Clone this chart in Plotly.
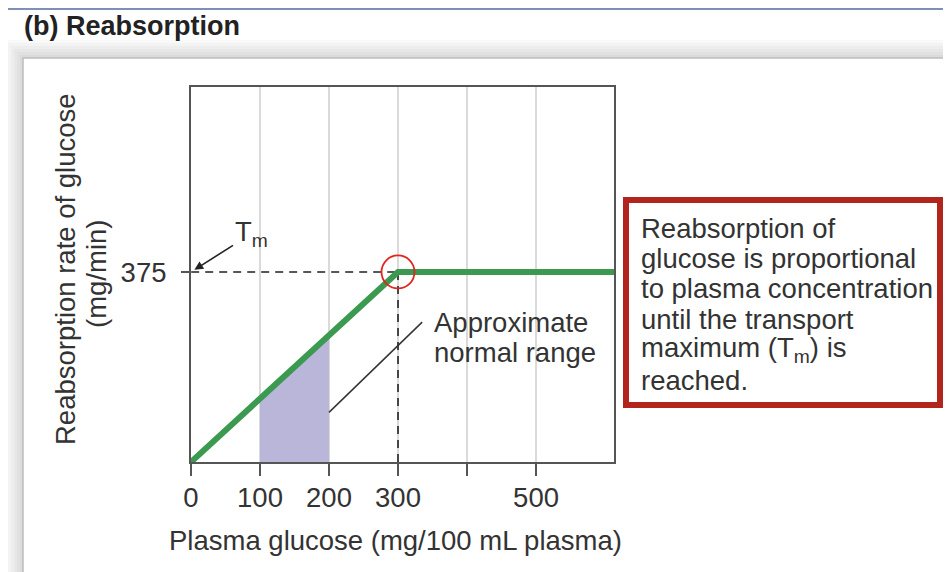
import numpy as np
import plotly.graph_objects as go

# ---------------- data ----------------
plasma_glucose = [0, 300, 650]          # mg/100 mL plasma
reabsorption_rate = [0, 375, 375]       # mg/min
transport_max = 375
tm_glucose = 300
normal_range = [100, 200]
x_tick_vals = [0, 100, 200, 300, 500]
x_tick_text = ["0", "100", "200", "300", "500"]
x_unlabeled_ticks = [400]
y_tick_vals = [375]
y_tick_text = ["375"]
callout_lines = [
    "Reabsorption of",
    "glucose is proportional",
    "to plasma concentration",
    "until the transport",
    "maximum (T<sub>m</sub>) is",
    "reached.",
]
normal_label_lines = ["Approximate", "normal range"]

# ---------------- style ----------------
FONT = "Liberation Sans, Arial, Helvetica, sans-serif"
FS = 27.5
TXT = "#333333"
OFF = 8                                  # page body margin
SW, SH = 951, 572                        # screen size
W, H = SW - OFF, SH - OFF                # figure size
L, R, T, B = 191, 614, 87, 462          # plot area in screen pixels
X_MAX, Y_MAX = 613, 740


def px2x(px):
    return (px - L) / (R - L)


def py2y(py):
    return (B - py) / (B - T)


nr_x = np.linspace(normal_range[0], normal_range[1], 2)
nr_y = np.interp(nr_x, plasma_glucose, reabsorption_rate)

fig = go.Figure()

# shaded normal range
fig.add_trace(go.Scatter(
    x=nr_x, y=nr_y, fill="tozeroy", mode="none",
    fillcolor="#b9b6da", hoverinfo="skip", showlegend=False))

# dashed guides to Tm
fig.add_trace(go.Scatter(
    x=[-20, tm_glucose], y=[transport_max, transport_max], mode="lines",
    line=dict(color="#222222", width=1.6, dash="8px,6px"),
    cliponaxis=False, hoverinfo="skip", showlegend=False))
fig.add_trace(go.Scatter(
    x=[tm_glucose, tm_glucose], y=[transport_max, -10], mode="lines",
    line=dict(color="#222222", width=1.6, dash="8px,6px"),
    cliponaxis=False, hoverinfo="skip", showlegend=False))

# reabsorption curve
fig.add_trace(go.Scatter(
    x=plasma_glucose, y=reabsorption_rate, mode="lines",
    line=dict(color="#3b9a50", width=6), showlegend=False))

# red circle at Tm
fig.add_trace(go.Scatter(
    x=[tm_glucose], y=[transport_max], mode="markers",
    marker=dict(symbol="circle-open", size=33, color="#e0261f",
                line=dict(width=1.8, color="#e0261f")),
    cliponaxis=False, hoverinfo="skip", showlegend=False))

shapes = []
# top rule
shapes.append(dict(type="line", xref="paper", yref="paper",
                   x0=px2x(0), x1=px2x(SW), y0=py2y(9), y1=py2y(9),
                   line=dict(color="#7f8fb5", width=2), layer="below"))
# panel shadow
for k in range(6, 0, -1):
    shapes.append(dict(type="rect", xref="paper", yref="paper",
                       x0=px2x(23 - 3 * k), x1=px2x(1000),
                       y0=py2y(640), y1=py2y(58 - 3 * k),
                       fillcolor="rgba(0,0,0,0.022)", line=dict(width=0),
                       layer="below"))
# panel
shapes.append(dict(type="rect", xref="paper", yref="paper",
                   x0=px2x(23), x1=px2x(1000), y0=py2y(640), y1=py2y(58),
                   fillcolor="white", line=dict(color="#bdbdbd", width=1.5),
                   layer="below"))
# callout box
shapes.append(dict(type="rect", xref="paper", yref="paper",
                   x0=px2x(626), x1=px2x(940), y0=py2y(405), y1=py2y(200),
                   fillcolor="white", line=dict(color="#b1251d", width=6)))
# leader line for normal range
shapes.append(dict(type="line", xref="x", yref="y",
                   x0=normal_range[1], y0=98, x1=335, y1=276,
                   line=dict(color="#333333", width=1.5)))

annotations = []
# panel title
annotations.append(dict(
    text="<b>(b) Reabsorption</b>", xref="paper", yref="paper",
    x=px2x(22), y=py2y(26), xanchor="left", yanchor="middle",
    showarrow=False, font=dict(family=FONT, size=27, color="#222222")))
# Tm arrow
annotations.append(dict(
    text="T<sub>m</sub>", x=0, y=transport_max, xref="x", yref="y",
    ax=60, ay=-38, showarrow=True, arrowhead=2, arrowsize=1.1,
    arrowwidth=1.6, arrowcolor="#222222", standoff=4,
    font=dict(family=FONT, size=FS, color=TXT)))
# normal range label
for i, line in enumerate(normal_label_lines):
    annotations.append(dict(
        text=line, xref="paper", yref="paper",
        x=px2x(432), y=py2y(322 + 30 * i), xanchor="left", yanchor="middle",
        showarrow=False, font=dict(family=FONT, size=FS, color=TXT)))
# callout text
for i, line in enumerate(callout_lines):
    annotations.append(dict(
        text=line, xref="paper", yref="paper",
        x=px2x(639), y=py2y(228 + 30.4 * i), xanchor="left", yanchor="middle",
        showarrow=False, font=dict(family=FONT, size=FS, color=TXT)))
# axis titles
annotations.append(dict(
    text="Reabsorption rate of glucose", xref="paper", yref="paper",
    x=px2x(65), y=py2y(269), textangle=-90, xanchor="center",
    yanchor="middle", showarrow=False,
    font=dict(family=FONT, size=FS, color=TXT)))
annotations.append(dict(
    text="(mg/min)", xref="paper", yref="paper",
    x=px2x(96), y=py2y(274), textangle=-90, xanchor="center",
    yanchor="middle", showarrow=False,
    font=dict(family=FONT, size=FS, color=TXT)))
annotations.append(dict(
    text="Plasma glucose (mg/100 mL plasma)", xref="paper", yref="paper",
    x=px2x(395), y=py2y(540), xanchor="center", yanchor="middle",
    showarrow=False, font=dict(family=FONT, size=FS, color=TXT)))

fig.update_layout(
    width=W, height=H,
    margin=dict(l=L - OFF, r=SW - R, t=T - OFF, b=SH - B, pad=0),
    paper_bgcolor="white", plot_bgcolor="white",
    font=dict(family=FONT, size=FS, color=TXT),
    shapes=shapes, annotations=annotations, showlegend=False,
    xaxis=dict(range=[0, X_MAX], tickvals=x_tick_vals, ticktext=x_tick_text,
               ticks="outside", ticklen=12, tickwidth=2, tickcolor="#555555",
               showline=True, linecolor="#555555", linewidth=2, mirror=True,
               showgrid=True, gridcolor="#dadada", gridwidth=1.5,
               zeroline=False, ticklabelstandoff=-2,
               minor=dict(tickmode="array", tickvals=x_unlabeled_ticks,
                          ticks="outside", ticklen=12, tickwidth=2,
                          tickcolor="#555555", showgrid=True,
                          gridcolor="#dadada", gridwidth=1.5),
               tickfont=dict(family=FONT, size=FS, color=TXT)),
    yaxis=dict(range=[0, Y_MAX], tickvals=y_tick_vals, ticktext=y_tick_text,
               ticks="outside", ticklen=8, tickwidth=2, tickcolor="#555555",
               showline=True, linecolor="#555555", linewidth=2, mirror=True,
               showgrid=False, zeroline=False, ticklabelstandoff=9,
               tickfont=dict(family=FONT, size=FS, color=TXT)),
)

fig.write_html("out.html")
